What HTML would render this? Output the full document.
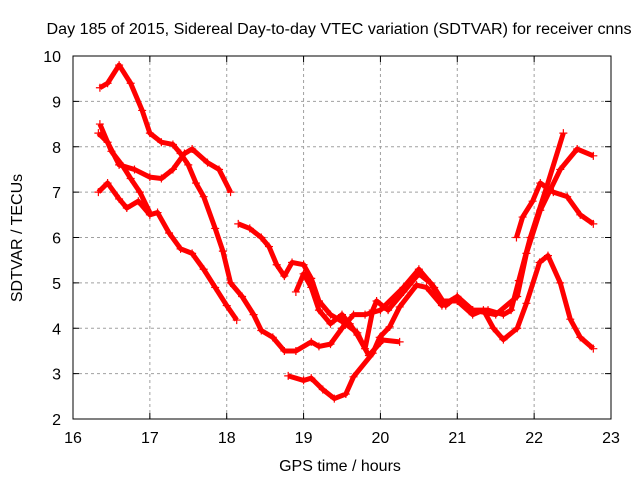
<!DOCTYPE html>
<html><head><meta charset="utf-8"><style>
body{margin:0;background:#fff}
svg{display:block;font-family:"Liberation Sans",sans-serif}
</style></head><body>
<svg width="640" height="480" id="chart">
<rect width="640" height="480" fill="#fff"/>
<text x="339" y="34" font-size="15.5" text-anchor="middle" textLength="585" lengthAdjust="spacingAndGlyphs">Day 185 of 2015, Sidereal Day-to-day VTEC variation (SDTVAR) for receiver cnns</text>
<text x="340" y="471" font-size="16" text-anchor="middle">GPS time / hours</text>
<text transform="translate(22,238) rotate(-90)" font-size="16" text-anchor="middle">SDTVAR / TECUs</text>
<g id="grid"></g><g id="series"></g><g id="axes"></g>
</svg>
<script>
const xTicks=[16,17,18,19,20,21,22,23];
const yTicks=[2,3,4,5,6,7,8,9,10];
const traceA=[[16.35,9.3],[16.45,9.4],[16.6,9.8],[16.75,9.4],[16.9,8.8],[17.0,8.3],[17.15,8.1],[17.3,8.05],[17.4,7.85],[17.5,7.6],[17.6,7.2],[17.7,6.9],[17.85,6.2],[17.95,5.7],[18.05,5.0],[18.2,4.7],[18.35,4.3],[18.45,3.95],[18.6,3.8],[18.75,3.5],[18.9,3.5],[19.1,3.7],[19.2,3.6],[19.35,3.65],[19.5,4.0],[19.65,4.3],[19.8,4.3],[20.0,4.4],[20.3,4.9],[20.5,5.3],[20.7,4.9],[20.85,4.5],[21.0,4.7],[21.2,4.4],[21.4,4.4],[21.6,4.3],[21.7,4.4],[21.8,5.05],[21.95,6.0],[22.16,7.1],[22.38,8.3]];
const traceB=[[16.33,8.3],[16.45,8.1],[16.6,7.6],[16.8,7.5],[17.0,7.33],[17.15,7.3],[17.3,7.5],[17.45,7.85],[17.55,7.95],[17.75,7.65],[17.9,7.5],[18.05,7.0]];
const traceC=[[16.35,8.5],[16.5,7.9],[16.65,7.57],[16.75,7.3],[16.87,7.0],[17.0,6.55]];
const traceD=[[16.33,7.0],[16.45,7.2],[16.6,6.85],[16.7,6.65],[16.85,6.8],[17.0,6.5],[17.1,6.55],[17.25,6.1],[17.4,5.75],[17.55,5.65],[17.7,5.3],[17.85,4.9],[18.0,4.5],[18.13,4.18]];
const traceE=[[18.15,6.3],[18.3,6.2],[18.45,6.0],[18.55,5.8],[18.65,5.4],[18.75,5.15],[18.85,5.45],[19.0,5.4],[19.1,5.1],[19.2,4.6],[19.35,4.3],[19.5,4.15],[19.7,3.9],[19.8,3.55],[19.9,4.4],[19.95,4.6],[20.1,4.4],[20.3,4.8],[20.5,5.2],[20.65,5.0],[20.8,4.6],[21.0,4.6],[21.2,4.3],[21.34,4.4],[21.47,4.0],[21.6,3.75],[21.78,4.0],[21.9,4.55],[22.07,5.45],[22.18,5.6],[22.34,5.0],[22.47,4.2],[22.6,3.8],[22.77,3.55]];
const traceF=[[18.9,4.8],[19.0,5.2],[19.1,4.9],[19.2,4.4],[19.35,4.1],[19.5,4.3],[19.6,4.1],[19.7,3.85],[19.85,3.4],[20.03,3.74],[20.25,3.7]];
const traceG=[[18.8,2.95],[19.0,2.85],[19.1,2.9],[19.25,2.65],[19.4,2.45],[19.55,2.55],[19.65,2.93],[19.9,3.45],[19.99,3.8],[20.12,4.03],[20.25,4.47],[20.47,4.95],[20.6,4.9],[20.8,4.5],[21.0,4.7],[21.2,4.4],[21.5,4.3],[21.78,4.7],[21.9,5.65],[22.08,6.6],[22.34,7.5],[22.56,7.95],[22.77,7.8]];
const traceH=[[21.77,6.0],[21.85,6.45],[21.98,6.8],[22.08,7.2],[22.25,7.0],[22.43,6.9],[22.6,6.5],[22.77,6.3]];
const allTraces=[traceA,traceB,traceC,traceD,traceE,traceF,traceG,traceH];

const L=73,R=611,T=56,B=419;
const sx=v=>L+(v-16)/(23-16)*(R-L);
const sy=v=>B-(v-2)/(10-2)*(B-T);
const NS="http://www.w3.org/2000/svg";
function mk(tag,attrs,parent){const e=document.createElementNS(NS,tag);for(const k in attrs)e.setAttribute(k,attrs[k]);parent.appendChild(e);return e;}
const grid=document.getElementById('grid'),axes=document.getElementById('axes'),ser=document.getElementById('series');
xTicks.forEach(t=>{
  const x=sx(t);
  if(t>16&&t<23){const g=mk('line',{x1:x,x2:x,y1:T,y2:B,stroke:'#a0a0a0','stroke-dasharray':'3,3'},grid);
  
  }
  const tk=mk('path',{d:`M${x},${B}v-6M${x},${T}v6`,stroke:'#000'},axes);
  
  
  const lb=mk('text',{x:x,y:B+24,'font-size':16,'text-anchor':'middle'},axes);lb.textContent=t;
  
  
});
yTicks.forEach(t=>{
  const y=sy(t);
  if(t>2&&t<10){const g=mk('line',{x1:L,x2:R,y1:y,y2:y,stroke:'#a0a0a0','stroke-dasharray':'3,3'},grid);
  
  }
  const tk=mk('path',{d:`M${L},${y}h6M${R},${y}h-6`,stroke:'#000'},axes);
  
  
  const lb=mk('text',{x:L-12,y:y+6,'font-size':16,'text-anchor':'end'},axes);lb.textContent=t;
  
  
});
const frame=mk('rect',{x:L,y:T,width:R-L,height:B-T,fill:'none',stroke:'#000'},axes);


allTraces.forEach((tr,i)=>{
  const g=mk('g',{},ser);
  
  
  mk('polyline',{points:tr.map(p=>sx(p[0])+','+sy(p[1])).join(' '),fill:'none',stroke:'#f00','stroke-width':5,'stroke-linejoin':'round'},g);
  tr.forEach(p=>{
    const x=sx(p[0]),y=sy(p[1]);
    const m=mk('path',{d:`M${x-4},${y}h8M${x},${y-4}v8`,stroke:'#f00','stroke-width':1.2},g);
    
    
  });
});
</script>
</body></html>
